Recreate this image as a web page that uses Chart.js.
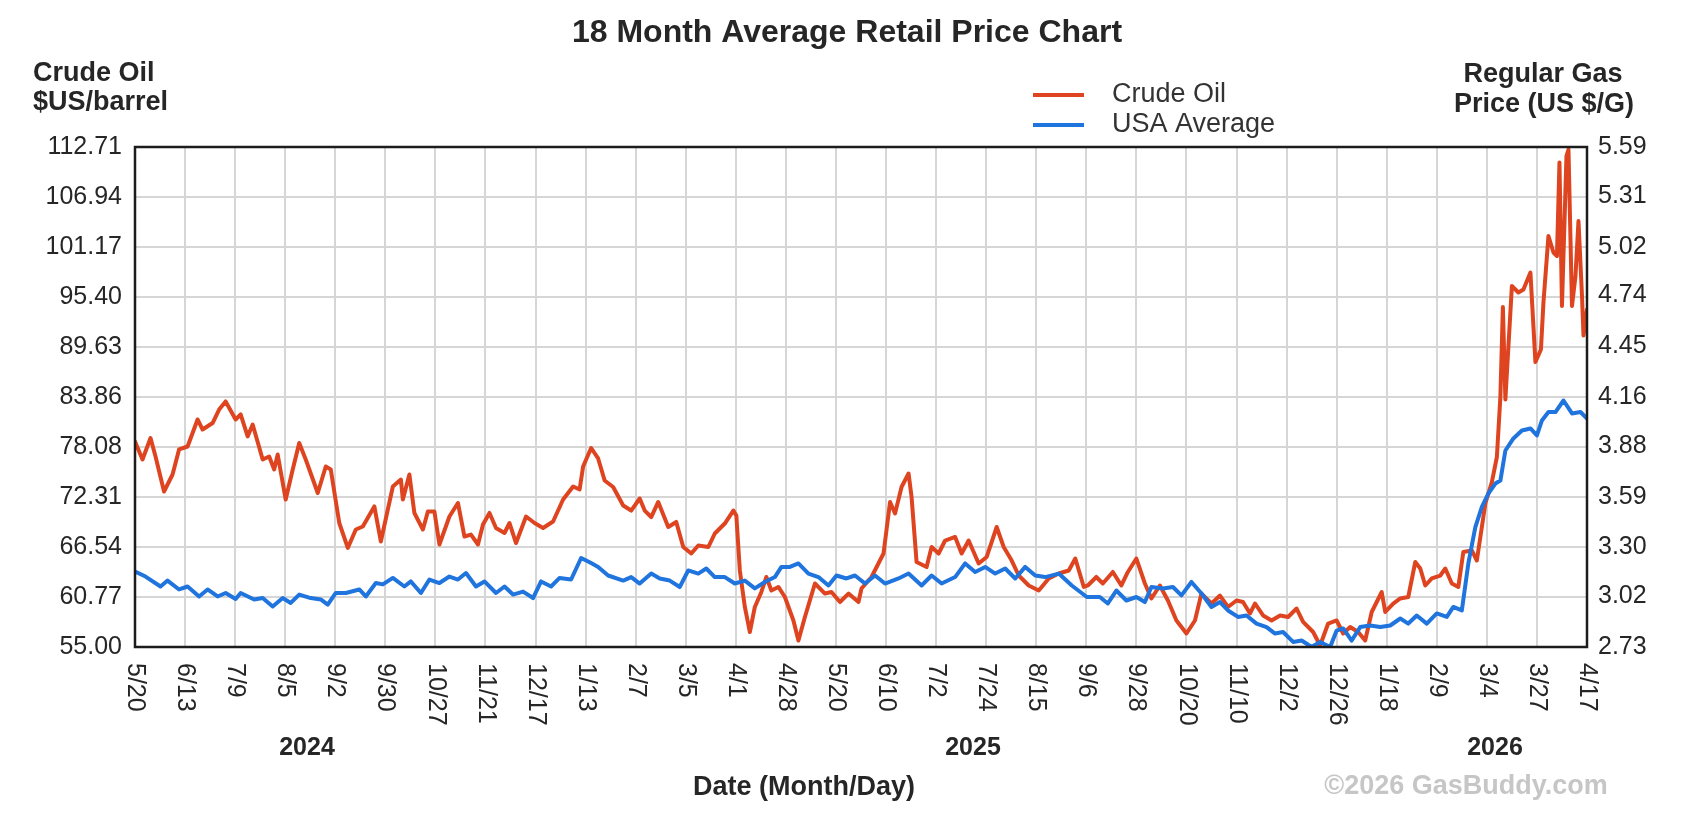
<!DOCTYPE html>
<html>
<head>
<meta charset="utf-8">
<script src="https://cdn.jsdelivr.net/npm/chart.js@4/dist/chart.umd.min.js"></script>
<style>
  html, body { margin: 0; padding: 0; background: #fff; }
  #wrap { position: relative; width: 1700px; height: 827px; }
</style>
</head>
<body>
<div id="wrap"><canvas id="chart"></canvas></div>
<script>
// 18 month crude vs. regular gas, GasBuddy style. x runs in "grid steps":
// one step per date label, 0 = 5/20/2024 ... 29 = 4/17/2026.

const dateLabels = ["5/20","6/13","7/9","8/5","9/2","9/30","10/27","11/21","12/17","1/13",
  "2/7","3/5","4/1","4/28","5/20","6/10","7/2","7/24","8/15","9/6",
  "9/28","10/20","11/10","12/2","12/26","1/18","2/9","3/4","3/27","4/17"];
const yearLabels = ["2024", "2025", "2026"];
const oilTicks = [55.00, 60.77, 66.54, 72.31, 78.08, 83.86, 89.63, 95.40, 101.17, 106.94, 112.71];
const gasTicks = [2.73, 3.02, 3.30, 3.59, 3.88, 4.16, 4.45, 4.74, 5.02, 5.31, 5.59];

// crude oil, $US/barrel
const oilAt = [0,0.15,0.31,0.41,0.58,0.75,0.88,1.05,1.25,1.35,1.55,1.68,1.81,2.01,2.11,2.25,2.35,2.55,2.68,2.78,
  2.85,3.01,3.15,3.28,3.41,3.65,3.81,3.91,4.08,4.25,4.41,4.55,4.78,4.91,5.15,5.31,5.35,5.48,5.58,5.75,
  5.85,5.98,6.08,6.28,6.45,6.58,6.71,6.85,6.95,7.08,7.21,7.38,7.48,7.61,7.81,7.98,8.15,8.35,8.55,8.75,
  8.88,8.95,9.11,9.25,9.38,9.55,9.75,9.91,10.08,10.18,10.31,10.45,10.65,10.81,10.95,11.11,11.25,11.45,11.58,11.78,
  11.95,12.01,12.08,12.18,12.28,12.38,12.51,12.61,12.71,12.85,12.98,13.15,13.25,13.38,13.58,13.78,13.91,14.08,14.25,14.45,
  14.51,14.71,14.95,15.08,15.18,15.31,15.45,15.51,15.61,15.81,15.91,16.05,16.18,16.38,16.51,16.65,16.85,17.01,17.21,17.35,
  17.51,17.65,17.85,18.05,18.25,18.45,18.65,18.78,18.95,19.03,19.2,19.33,19.53,19.7,19.83,20,20.17,20.3,20.47,20.63,
  20.8,21,21.17,21.3,21.5,21.67,21.83,22,22.13,22.27,22.37,22.53,22.7,22.87,23.03,23.2,23.33,23.53,23.67,23.83,
  24,24.13,24.27,24.43,24.57,24.7,24.9,24.97,25.13,25.27,25.43,25.57,25.67,25.77,25.9,26.07,26.17,26.3,26.43,26.53,
  26.7,26.8,26.97,27.1,27.2,27.27,27.32,27.37,27.5,27.63,27.73,27.87,27.97,28.08,28.13,28.23,28.33,28.4,28.45,28.5,
  28.59,28.63,28.7,28.77,28.83,28.9,28.93,29];
const oilUsd = [78.72,76.64,79.12,76.99,72.95,74.91,77.80,78.14,81.26,80.10,80.85,82.41,83.34,81.26,81.84,79.30,80.68,76.64,76.99,75.49,
  77.22,72.02,75.49,78.55,76.64,72.77,75.83,75.49,69.31,66.43,68.56,68.91,71.22,67.18,73.53,74.33,72.02,74.91,70.47,68.56,
  70.64,70.64,66.83,70.06,71.62,67.75,67.98,66.83,69.14,70.47,68.74,68.16,69.31,67.00,70.06,69.31,68.74,69.49,72.02,73.53,
  73.18,75.83,77.97,76.76,74.22,73.47,71.33,70.75,72.14,70.75,70.00,71.74,68.85,69.43,66.54,65.79,66.72,66.54,68.10,69.25,
  70.75,70.18,63.83,59.62,56.73,59.62,61.35,63.08,61.52,61.93,60.77,58.06,55.75,58.46,62.33,61.17,61.35,60.19,61.17,60.19,
  61.75,63.08,65.79,71.74,70.41,73.47,75.02,72.31,64.81,64.23,66.54,65.79,67.29,67.70,65.79,67.29,64.64,65.39,68.85,66.54,
  64.98,63.25,62.10,61.52,62.91,63.48,63.83,65.21,61.93,62.10,63.08,62.33,63.66,62.10,63.66,65.21,62.33,60.60,62.10,60.37,
  58.06,56.56,58.06,61.17,60.02,60.94,59.62,60.37,60.19,58.87,60.02,58.64,58.06,58.64,58.46,59.44,57.89,56.73,55.17,57.71,
  58.06,56.56,57.31,56.73,55.75,59.04,61.35,59.04,60.02,60.60,60.77,64.81,64.06,62.10,62.91,63.25,64.06,62.33,61.93,65.96,
  66.14,64.98,71.56,74.04,76.93,83.86,94.24,83.57,96.67,95.92,96.26,98.22,87.89,89.34,94.76,102.44,100.53,100.13,110.92,94.36,
  111.67,112.42,94.36,97.82,104.17,95.51,90.95,93.95];

// USA average regular gas, US $/gal
const gasAt = [0,0.21,0.51,0.65,0.88,1.05,1.28,1.45,1.65,1.81,2.01,2.11,2.38,2.55,2.75,2.95,3.11,3.28,3.51,3.71,
  3.85,4.01,4.21,4.48,4.61,4.81,4.95,5.15,5.38,5.51,5.71,5.88,6.08,6.28,6.45,6.61,6.81,6.98,7.21,7.38,
  7.55,7.75,7.95,8.11,8.31,8.48,8.71,8.91,9.11,9.25,9.45,9.75,9.91,10.08,10.31,10.48,10.68,10.88,11.05,11.25,
  11.41,11.58,11.78,11.98,12.18,12.38,12.58,12.78,12.91,13.08,13.25,13.45,13.65,13.85,14.01,14.21,14.38,14.58,14.78,14.98,
  15.25,15.45,15.71,15.91,16.11,16.38,16.58,16.78,16.98,17.18,17.38,17.58,17.78,17.98,18.18,18.45,18.71,19.01,19.27,19.43,
  19.6,19.8,20,20.17,20.3,20.53,20.73,20.9,21.1,21.3,21.5,21.67,21.83,22.03,22.2,22.4,22.6,22.77,22.93,23.13,
  23.3,23.5,23.67,23.87,24,24.13,24.3,24.47,24.67,24.87,25.07,25.27,25.43,25.6,25.8,26,26.2,26.33,26.5,26.63,
  26.77,26.9,27.03,27.17,27.27,27.37,27.53,27.7,27.87,28,28.1,28.23,28.37,28.53,28.7,28.87,29];
const gasUsd = [3.162,3.133,3.076,3.110,3.059,3.076,3.019,3.059,3.019,3.039,3.005,3.039,3.002,3.010,2.962,3.010,2.982,3.030,3.010,3.002,
  2.973,3.039,3.039,3.059,3.019,3.096,3.088,3.125,3.076,3.105,3.039,3.116,3.096,3.133,3.116,3.153,3.076,3.105,3.039,3.076,
  3.030,3.047,3.010,3.105,3.076,3.125,3.116,3.239,3.210,3.188,3.139,3.110,3.130,3.093,3.150,3.122,3.110,3.073,3.168,3.150,
  3.179,3.130,3.130,3.093,3.110,3.065,3.102,3.130,3.188,3.188,3.208,3.150,3.130,3.082,3.139,3.122,3.139,3.093,3.139,3.093,
  3.122,3.150,3.082,3.139,3.093,3.130,3.208,3.159,3.188,3.150,3.179,3.122,3.188,3.139,3.130,3.150,3.082,3.016,3.016,2.979,
  3.053,2.996,3.016,2.987,3.073,3.065,3.073,3.025,3.102,3.036,2.959,2.987,2.939,2.902,2.910,2.864,2.844,2.807,2.816,2.759,
  2.767,2.730,2.759,2.730,2.824,2.836,2.767,2.844,2.853,2.844,2.853,2.893,2.864,2.910,2.864,2.922,2.902,2.959,2.939,3.208,
  3.416,3.531,3.608,3.665,3.682,3.854,3.923,3.968,3.980,3.940,4.026,4.074,4.074,4.140,4.066,4.074,4.037];

const OIL = "#de4420";
const GAS = "#1f74dd";
const INK = "#262626";
const FONT = "'Liberation Sans', Arial, sans-serif";

function pts(xs, ys) { return xs.map((x, i) => ({ x, y: ys[i] })); }

// frame, legend, rotated dates and the loose captions
const extras = {
  id: "extras",
  afterDatasetsDraw(chart) {
    const { ctx, chartArea: a } = chart;
    ctx.save();
    ctx.strokeStyle = "#1c1c1c";
    ctx.lineWidth = 2.5;
    ctx.strokeRect(a.left, a.top, a.right - a.left, a.bottom - a.top);
    ctx.restore();
  },
  afterDraw(chart) {
    const { ctx, chartArea: a } = chart;
    const xs = chart.scales.x;
    ctx.save();
    ctx.fillStyle = INK;
    ctx.textBaseline = "middle";

    ctx.font = `bold 32px ${FONT}`;
    ctx.textAlign = "center";
    ctx.fillText("18 Month Average Retail Price Chart", 847, 33);

    ctx.font = `bold 27px ${FONT}`;
    ctx.textAlign = "left";
    ctx.fillText("Crude Oil", 33, 74);
    ctx.fillText("$US/barrel", 33, 103);
    ctx.textAlign = "center";
    ctx.fillText("Regular Gas", 1543, 75);
    ctx.fillText("Price (US $/G)", 1544, 105);

    // legend
    [["Crude Oil", OIL, 95], ["USA Average", GAS, 125]].forEach(([name, col, y]) => {
      ctx.strokeStyle = col;
      ctx.lineWidth = 4;
      ctx.beginPath();
      ctx.moveTo(1033, y);
      ctx.lineTo(1084, y);
      ctx.stroke();
      ctx.font = `27px ${FONT}`;
      ctx.textAlign = "left";
      ctx.fillStyle = "#333";
      ctx.fillText(name, 1112, y);
    });

    // date labels, turned clockwise so they read downwards
    ctx.fillStyle = INK;
    ctx.font = `25px ${FONT}`;
    xs.ticks.forEach((t, i) => {
      ctx.save();
      ctx.translate(xs.getPixelForTick(i), a.bottom + 16);
      ctx.rotate(Math.PI / 2);
      ctx.textAlign = "left";
      ctx.fillText(dateLabels[t.value], 0, 0);
      ctx.restore();
    });

    ctx.font = `bold 25px ${FONT}`;
    ctx.textAlign = "center";
    [307, 973, 1495].forEach((x, i) => ctx.fillText(yearLabels[i], x, 748));
    ctx.font = `bold 27px ${FONT}`;
    ctx.fillText("Date (Month/Day)", 804, 788);
    ctx.fillStyle = "#c6c6c6";
    ctx.fillText("\u00a92026 GasBuddy.com", 1466, 787);
    ctx.restore();
  }
};

new Chart(document.getElementById("chart"), {
  type: "line",
  data: {
    datasets: [
      { label: "USA Average", data: pts(gasAt, gasUsd), yAxisID: "gas", order: 0,
        borderColor: GAS, borderWidth: 4 },
      { label: "Crude Oil", data: pts(oilAt, oilUsd), yAxisID: "oil", order: 1,
        borderColor: OIL, borderWidth: 4 },
    ],
  },
  options: {
    responsive: true,
    maintainAspectRatio: false,
    devicePixelRatio: 1,
    animation: false,
    elements: {
      point: { radius: 0 },
      line: { tension: 0, borderJoinStyle: "round", borderCapStyle: "round" },
    },
    layout: { padding: { top: 147, left: 0, right: 0, bottom: 0 } },
    plugins: { legend: { display: false }, title: { display: false }, tooltip: { enabled: false } },
    scales: {
      x: {
        type: "linear",
        min: 0,
        max: dateLabels.length - 1,
        afterBuildTicks: s => { s.ticks = dateLabels.map((_, i) => ({ value: i })); },
        afterFit: s => { s.height = 180; },
        grid: { color: "#d6d6d6", lineWidth: 2, drawTicks: false },
        border: { display: false },
        ticks: { display: false },
      },
      oil: {
        position: "left",
        min: oilTicks[0],
        max: oilTicks[oilTicks.length - 1],
        afterBuildTicks: s => { s.ticks = oilTicks.map(v => ({ value: v })); },
        afterFit: s => { s.width = 135; },
        grid: { color: "#d6d6d6", lineWidth: 2, drawTicks: false },
        border: { display: false },
        ticks: { color: INK, padding: 13, font: { family: FONT, size: 25 },
                 callback: v => v.toFixed(2) },
      },
      gas: {
        position: "right",
        min: gasTicks[0],
        max: gasTicks[gasTicks.length - 1],
        afterBuildTicks: s => { s.ticks = gasTicks.map(v => ({ value: v })); },
        afterFit: s => { s.width = 113; },
        grid: { display: false, drawTicks: false },
        border: { display: false },
        ticks: { color: INK, padding: 11, font: { family: FONT, size: 25 },
                 callback: v => v.toFixed(2) },
      },
    },
  },
  plugins: [extras],
});
</script>
</body>
</html>
